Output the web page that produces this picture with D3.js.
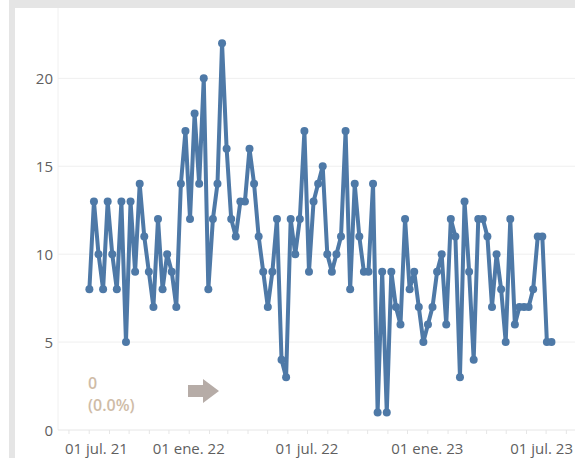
<!DOCTYPE html>
<html>
<head>
<meta charset="utf-8">
<script src="https://cdn.jsdelivr.net/npm/d3@7"></script>
<style>
  body { margin: 0; background: #fff; }
  svg { display: block; font-family: "Open Sans", sans-serif; }
</style>
</head>
<body>
<div id="viz-container"></div>
<script>
// weekly counts, first week starts 02 Aug 2021
const firstWeek = new Date(2021, 7, 2);
const counts = [8,13,10,8,13,10,8,13,5,
  13,9,14,11,9,7,12,8,10,9,7,
  14,17,12,18,14,20,8,12,14,22,16,12,11,13,13,16,14,11,9,7,9,12,
  4,3,12,10,12,17,9,13,14,15,10,9,10,11,17,8,14,11,9,9,
  14,1,9,1,9,7,6,12,8,9,7,5,6,7,9,10,6,12,11,3,
  13,9,4,12,12,11,7,10,8,5,12,6,7,7,7,8,11,11,5,5];

const yTicks = [0, 5, 10, 15, 20];
const xTickDates = [new Date(2021,6,1), new Date(2022,0,1), new Date(2022,6,1), new Date(2023,0,1), new Date(2023,6,1)];
const xTickLabels = ["01 jul. 21", "01 ene. 22", "01 jul. 22", "01 ene. 23", "01 jul. 23"];
const noteLines = ["0", "(0.0%)"];

const W = 575, H = 458;
const plotL = 58, plotR = 575, plotT = 8, plotB = 430;

let data = counts.map((c, i) => ({date: d3.timeWeek.offset(firstWeek, i), value: c}));

let viz = d3.select("#viz-container")
  .append("svg")
    .attr("width", W)
    .attr("height", H);

// frame
viz.append("rect").attr("x", 9).attr("y", 0).attr("width", W - 9).attr("height", plotT).attr("fill", "#e5e5e5");
viz.append("rect").attr("x", 9).attr("y", 0).attr("width", 6).attr("height", H).attr("fill", "#e5e5e5");

let x = d3.scaleTime()
  .domain([new Date(2021,5,15), new Date(2023,7,15)])
  .range([plotL, plotR]);

let y = d3.scaleLinear()
  .domain([0, 24])
  .range([plotB, plotT]);

// gridlines
viz.append("g")
  .selectAll("line").data(yTicks.slice(1))
  .enter().append("line")
    .attr("x1", plotL).attr("x2", plotR)
    .attr("y1", d => y(d)).attr("y2", d => y(d))
    .attr("stroke", "#efefef");

// y axis line
viz.append("line")
  .attr("x1", plotL).attr("x2", plotL).attr("y1", plotT).attr("y2", plotB)
  .attr("stroke", "#f0f0f0");

// y labels
viz.append("g")
  .selectAll("text").data(yTicks)
  .enter().append("text")
    .attr("x", 53)
    .attr("y", d => y(d) + 5.5)
    .attr("text-anchor", "end")
    .attr("font-size", 15)
    .attr("fill", "#5f5f5f")
    .text(d => d);

// x axis with monthly tick marks
let xAxis = d3.axisBottom(x)
  .tickValues(d3.timeMonth.range(new Date(2021,6,1), new Date(2023,7,2)))
  .tickSize(4)
  .tickFormat("");
let gx = viz.append("g")
  .attr("transform", "translate(0," + plotB + ")")
  .call(xAxis);
gx.select(".domain").attr("stroke", "#e6e6e6").attr("d", "M" + plotL + ",0H" + plotR);
gx.selectAll(".tick line").attr("stroke", "#e6e6e6");

let xl = viz.append("g")
  .selectAll("text").data(xTickDates)
  .enter().append("text")
    .attr("x", d => x(d))
    .attr("y", 453.5)
    .attr("text-anchor", "middle")
    .attr("font-size", 15)
    .attr("fill", "#5f5f5f")
    .text((d, i) => xTickLabels[i]);
// keep labels inside the view
xl.each(function(d) {
  let w = this.getComputedTextLength();
  let cx = x(d);
  if (cx - w / 2 < 65) cx = 65 + w / 2;
  if (cx + w / 2 > 573) cx = 573 - w / 2;
  d3.select(this).attr("x", cx);
});

// line + markers
let line = d3.line().x(d => x(d.date)).y(d => y(d.value));
viz.append("path")
  .datum(data)
  .attr("d", line)
  .attr("fill", "none")
  .attr("stroke", "#4e79a7")
  .attr("stroke-width", 4)
  .attr("stroke-linejoin", "round");

viz.append("g")
  .selectAll("circle").data(data)
  .enter().append("circle")
    .attr("cx", d => x(d.date))
    .attr("cy", d => y(d.value))
    .attr("r", 4)
    .attr("fill", "#4e79a7");

// annotation
viz.append("g")
  .selectAll("text").data(noteLines)
  .enter().append("text")
    .attr("x", 88)
    .attr("y", (d, i) => 389 + i * 22)
    .attr("font-size", 16)
    .attr("font-weight", 600)
    .attr("fill", "#cfbca7")
    .text(d => d);

viz.append("path")
  .attr("d", "M188,385H203V379L219,391L203,403V397H188Z")
  .attr("fill", "#b6aca7");
</script>
</body>
</html>
